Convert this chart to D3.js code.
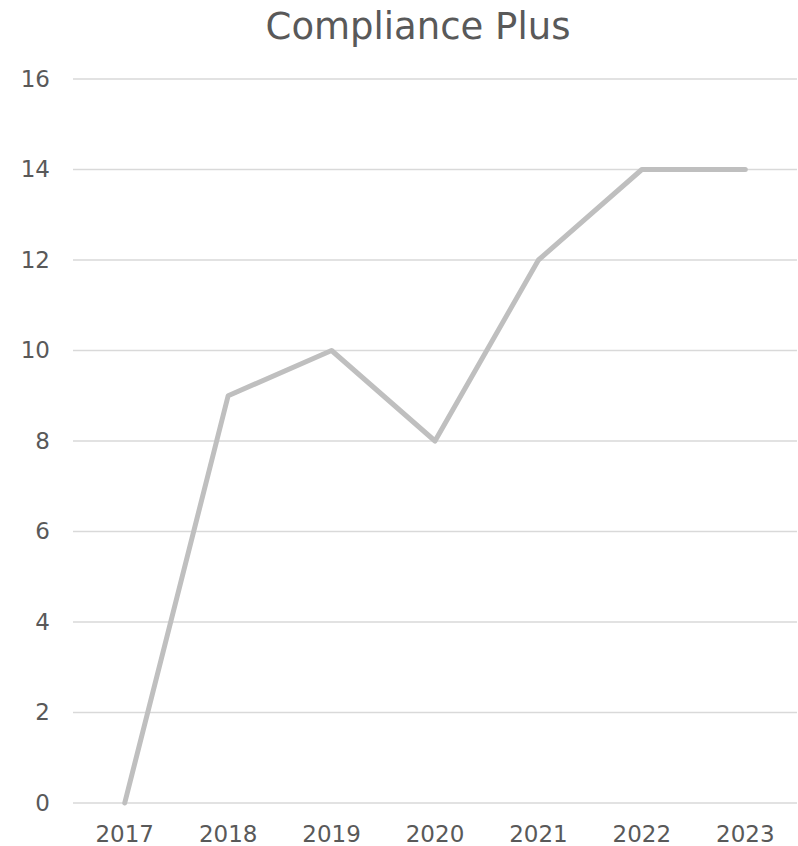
<!DOCTYPE html>
<html>
<head>
<meta charset="utf-8">
<script src="https://cdn.jsdelivr.net/npm/d3@7"></script>
<style>
    body { margin: 0; background: #fff; }
    text { font-family: "DejaVu Sans", Verdana, sans-serif; fill: #595959; }
</style>
</head>
<body>
<div id="chart"></div>
<script>
// values
const years = ["2017", "2018", "2019", "2020", "2021", "2022", "2023"];
const counts = [0, 9, 10, 8, 12, 14, 14];
const yTicks = [0, 2, 4, 6, 8, 10, 12, 14, 16];
const title = "Compliance Plus";

const width = 798, height = 846;
const margin = { top: 79, right: 1, bottom: 43, left: 73 };

const svg = d3.select("#chart")
    .append("svg")
    .attr("width", width)
    .attr("height", height);

const xScale = d3.scaleBand()
    .domain(years)
    .range([margin.left, width - margin.right]);

const yScale = d3.scaleLinear()
    .domain([0, 16])
    .range([height - margin.bottom, margin.top]);

// gridlines
svg.append("g")
    .attr("class", "grid")
    .selectAll("line")
    .data(yTicks)
    .join("line")
    .attr("x1", margin.left)
    .attr("x2", width - margin.right)
    .attr("y1", d => yScale(d))
    .attr("y2", d => yScale(d))
    .attr("stroke", "#d9d9d9")
    .attr("stroke-width", 1.5);

// y axis labels
const yAxis = d3.axisLeft(yScale).tickValues(yTicks).tickSize(0).tickPadding(0);
svg.append("g")
    .attr("class", "axis y-axis")
    .attr("transform", `translate(50,0)`)
    .call(yAxis)
    .call(g => g.select(".domain").remove())
    .selectAll("text")
    .attr("font-size", 23)
    .style("font-family", "DejaVu Sans, Verdana, sans-serif")
    .attr("fill", "#595959");

// x axis labels
const xAxis = d3.axisBottom(xScale).tickSize(0).tickPadding(0);
svg.append("g")
    .attr("class", "axis x-axis")
    .attr("transform", `translate(0,${height - margin.bottom + 23})`)
    .call(xAxis)
    .call(g => g.select(".domain").remove())
    .selectAll("text")
    .attr("font-size", 23)
    .style("font-family", "DejaVu Sans, Verdana, sans-serif")
    .attr("fill", "#595959");

// the line
const line = d3.line()
    .x((d, i) => xScale(years[i]) + xScale.bandwidth() / 2)
    .y(d => yScale(d));

svg.append("path")
    .datum(counts)
    .attr("fill", "none")
    .attr("stroke", "#bfbfbf")
    .attr("stroke-width", 5)
    .attr("stroke-linecap", "round")
    .attr("stroke-linejoin", "round")
    .attr("d", line);

// title
svg.append("text")
    .attr("x", 418)
    .attr("y", 39)
    .attr("text-anchor", "middle")
    .attr("font-size", 37)
    .text(title);
</script>
</body>
</html>
